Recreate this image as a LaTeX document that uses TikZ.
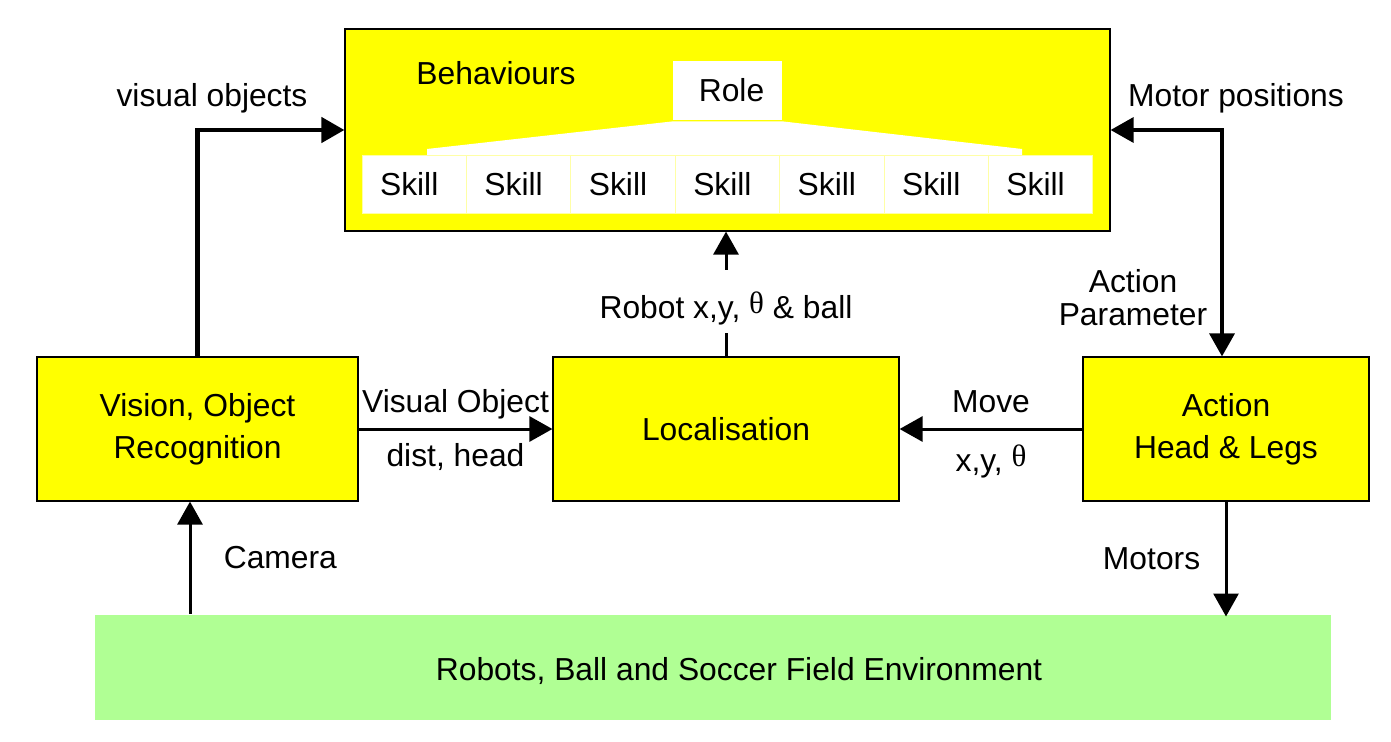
\documentclass[tikz,border=0pt]{standalone}
\usepackage{fontspec}
\setmainfont{Liberation Sans}
\newfontfamily\thetafont{Liberation Serif}
\usepackage{tikz}
\usetikzlibrary{arrows.meta}
\usetikzlibrary{positioning}
\definecolor{envgreen}{RGB}{176,255,148}
\definecolor{boxyellow}{RGB}{255,255,0}
\newcommand{\rtheta}{\raisebox{5pt}{\fontsize{31}{31}\selectfont\thetafont θ}}
\tikzset{
  block/.style={rectangle, draw=black, fill=boxyellow, line width=1.2pt,
    align=center, inner sep=0pt, minimum height=144pt},
  skill/.style={rectangle, draw=boxyellow!35, fill=white, line width=1pt,
    minimum width=104.4pt, minimum height=58pt, inner sep=0pt}}

\begin{document}
\begin{tikzpicture}[x=1pt, y=-1pt,
      >={Triangle[length=23pt,width=25pt]},
      font=\fontsize{31.8}{42}\selectfont,
      line width=3pt,
      node distance=104.4pt,
      on grid]

    \useasboundingbox (0,0) rectangle (1391,741);

    % behaviours with role and skills
    \node[block, minimum width=765pt, minimum height=202pt]
      (Behaviours) at (727.5,130) {};
    \node
      (BehavioursText) at (496,73) {Behaviours};
    \node[fill=white, minimum width=109pt, minimum height=59pt, inner sep=0pt]
      (Role) at (727.5,90.5) {\hspace*{8pt}Role};
    \fill[white] (Role.south west) -- (427,149) -- (427,155)
      -- (1022,155) -- (1022,149) -- (Role.south east) -- cycle;
    \node[skill]
      (Skill1) at (414.2,184) {Skill\hspace*{10pt}};
    \node[skill]
      (Skill2) [right=of Skill1] {Skill\hspace*{10pt}};
    \node[skill]
      (Skill3) [right=of Skill2] {Skill\hspace*{10pt}};
    \node[skill]
      (Skill4) [right=of Skill3] {Skill\hspace*{10pt}};
    \node[skill]
      (Skill5) [right=of Skill4] {Skill\hspace*{10pt}};
    \node[skill]
      (Skill6) [right=of Skill5] {Skill\hspace*{10pt}};
    \node[skill]
      (Skill7) [right=of Skill6] {Skill\hspace*{10pt}};

    % modules
    \node[block, minimum width=321pt]
      (Vision) at (197.5,429) {Vision, Object\\Recognition};
    \node[block, minimum width=346pt]
      (Localisation) at (726,429) {Localisation};
    \node[block, minimum width=286pt]
      (Action) at (1226,429) {Action\\Head \& Legs};
    \node[rectangle, fill=envgreen, minimum width=1236pt, minimum height=105pt]
      (Environment) at (713,667.5) {};
    \node
      (EnvironmentText) at (739,671) {Robots, Ball and Soccer Field Environment};

    % labels of the bent connectors
    \node
      (VisualObjectsText) at (212,98) {visual objects};
    \node
      (MotorPositionsText) at (1236,98) {Motor positions};
    \node[align=center, font=\fontsize{31.8}{33}\selectfont]
      (ActionParameterText) at (1133,298) {Action\\Parameter};

    \draw[->, line width=4.5pt] (Vision.north) |- (Behaviours.west);
    \draw[<->, line width=3.5pt] (Behaviours.east) -| ([xshift=-4pt]Action.north);

    \path[->]
      (Localisation.north) edge node[pos=0.44, fill=white, inner xsep=4pt, inner ysep=8pt]
        {\rule{0pt}{40pt}Robot x,y, \rtheta{} \& ball} (Localisation.north |- Behaviours.south)
      (Vision.east) edge node[above=5pt] {Visual Object} node[below=10pt] {dist, head} (Localisation.west)
      (Action.west) edge node[above=11pt] {Move} node[below=11pt] {x,y, \rtheta} (Localisation.east)
      ([xshift=-7.5pt]Vision.south |- Environment.north) edge node[right=29pt] {Camera} ([xshift=-7.5pt]Vision.south)
      (Action.south) edge node[left=21pt] {Motors} ([yshift=-3pt]Action.south |- Environment.north);

  \end{tikzpicture}
\end{document}
